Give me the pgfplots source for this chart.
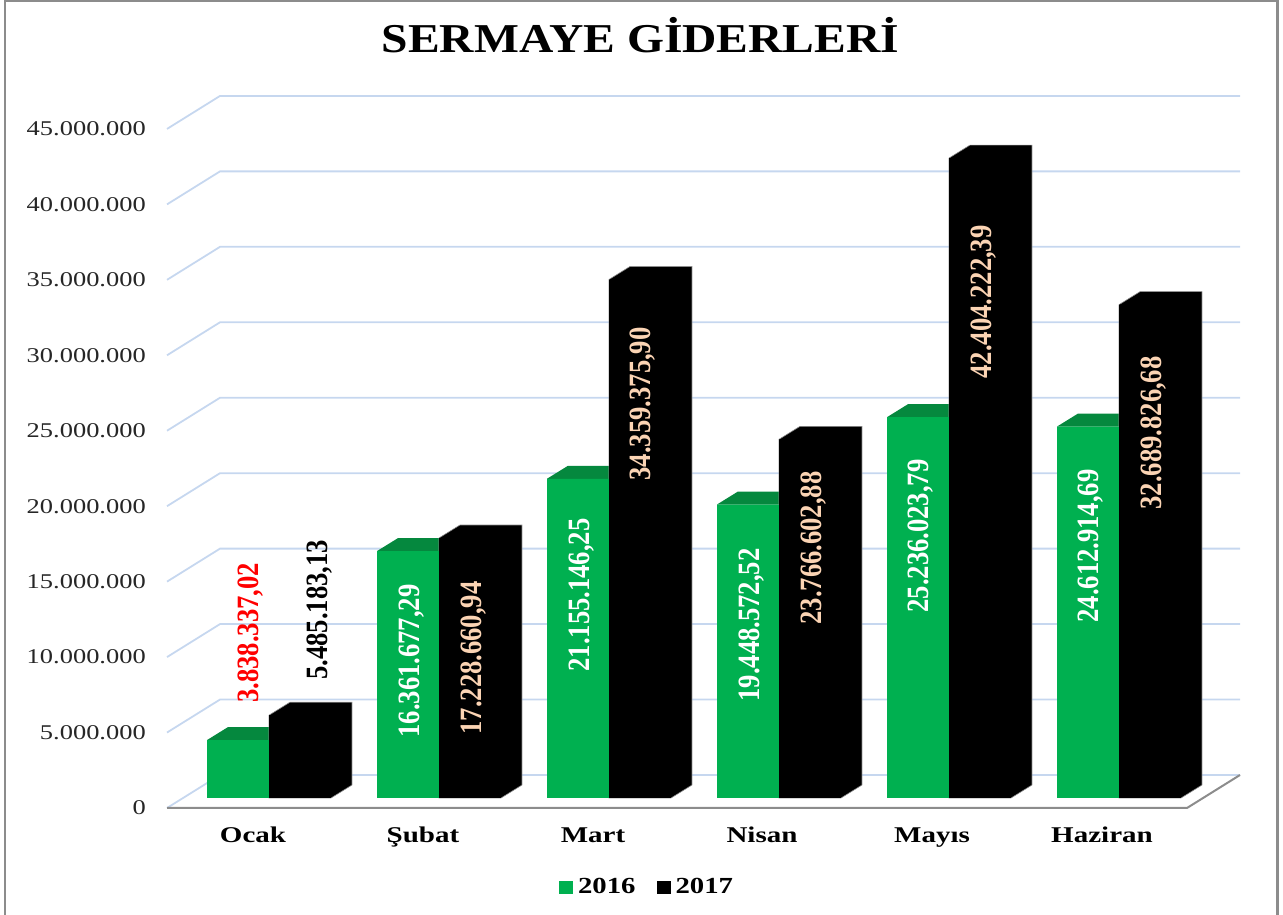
\documentclass[border=0pt]{standalone}
\usepackage{pgfplots}
\pgfplotsset{compat=1.18}
\usepackage{fontspec}
\setmainfont{Liberation Serif}
\newfontfamily\wide[FakeStretch=1.26]{Liberation Serif}
\newfontfamily\catf[FakeStretch=1.29]{Liberation Serif}
\newfontfamily\titlef[FakeStretch=1.16]{Liberation Serif}
\newfontfamily\legf[FakeStretch=1.25]{Liberation Serif}
\newfontfamily\narrow[FakeStretch=0.86]{Liberation Serif}
\definecolor{gridb}{HTML}{C6D7EF}
\definecolor{frameg}{HTML}{8C8C8C}
\definecolor{barg}{HTML}{00B050}
\definecolor{topg}{HTML}{05883E}
\definecolor{peach}{HTML}{FBD4B4}
\newcommand{\dl}[4]{\node[rotate=90,text=#3,inner sep=0pt,text depth=0pt] at (#1pt,915pt-#2pt) {\narrow\fontsize{31}{33}\selectfont\bfseries #4};}
\begin{document}
\begin{tikzpicture}[x=1pt,y=1pt]
\useasboundingbox (0,0) rectangle (1283pt,915pt);
% back layer : walls, floor, value axis, category axis
\begin{axis}[
  at={(0pt,0pt)},anchor=south west,
  scale only axis,width=1283pt,height=915pt,
  xmin=0,xmax=1283,ymin=-7090788,ymax=53545394,
  clip=false,
  axis line style={draw=none},
  major tick length=0pt,
  scaled y ticks=false,
  ytick={0,5000000,10000000,15000000,20000000,25000000,30000000,35000000,40000000,45000000},
  xtick={253,423,593,762,932,1102},
  xticklabels={Ocak,Şubat,Mart,Nisan,Mayıs,Haziran},
  yticklabel style={/pgf/number format/fixed,/pgf/number format/precision=0,/pgf/number format/1000 sep={.},/pgf/number format/assume math mode=true,
    font=\wide\fontsize{21}{23}\selectfont,text=black!85,anchor=east,inner sep=0pt,xshift=146pt},
  xticklabel style={font=\catf\fontsize{22.5}{25}\selectfont\bfseries,text=black,anchor=base,inner sep=0pt,yshift=72pt},
]
\addplot[gridb,line width=1.8pt] coordinates {(167,5000000)(220,7186879)(1240,7186879)};
\addplot[gridb,line width=1.8pt] coordinates {(167,10000000)(220,12186879)(1240,12186879)};
\addplot[gridb,line width=1.8pt] coordinates {(167,15000000)(220,17186879)(1240,17186879)};
\addplot[gridb,line width=1.8pt] coordinates {(167,20000000)(220,22186879)(1240,22186879)};
\addplot[gridb,line width=1.8pt] coordinates {(167,25000000)(220,27186879)(1240,27186879)};
\addplot[gridb,line width=1.8pt] coordinates {(167,30000000)(220,32186879)(1240,32186879)};
\addplot[gridb,line width=1.8pt] coordinates {(167,35000000)(220,37186879)(1240,37186879)};
\addplot[gridb,line width=1.8pt] coordinates {(167,40000000)(220,42186879)(1240,42186879)};
\addplot[gridb,line width=1.8pt] coordinates {(167,45000000)(220,47186879)(1240,47186879)};
\addplot[gridb,line width=1.8pt] coordinates {(167,0)(220,2186879)(1240,2186879)};
\addplot[frameg,line width=2pt] coordinates {(167,0)(1187,0)(1240,2186879)};
\end{axis}
% front layer : the bars, with their base on the floor
\begin{axis}[
  at={(0pt,0pt)},anchor=south west,
  scale only axis,width=1283pt,height=915pt,
  xmin=-1.58235,xmax=5.96471,ymin=-7753479,ymax=52882704,
  clip=false,hide axis,
  legend columns=2,
  legend style={at={(0.5043,0.0306)},anchor=center,draw=none,fill=none,
    font=\legf\fontsize{23}{25}\selectfont\bfseries,inner sep=0pt,
    /tikz/every odd column/.append style={column sep=3pt},
    /tikz/every even column/.append style={column sep=19pt}},
  legend image code/.code={\fill[#1] (0pt,-6.5pt) rectangle (14pt,6.5pt);},
]
% green bar tops
\addplot[fill=topg,draw=none,forget plot] coordinates {(-0.3647,3838337)(0,3838337)(0.1235,4699837)(-0.2412,4699837)} --cycle;
\addplot[fill=topg,draw=none,forget plot] coordinates {(0.6353,16361677)(1,16361677)(1.1235,17223177)(0.7588,17223177)} --cycle;
\addplot[fill=topg,draw=none,forget plot] coordinates {(1.6353,21155146)(2,21155146)(2.1235,22016646)(1.7588,22016646)} --cycle;
\addplot[fill=topg,draw=none,forget plot] coordinates {(2.6353,19448573)(3,19448573)(3.1235,20310073)(2.7588,20310073)} --cycle;
\addplot[fill=topg,draw=none,forget plot] coordinates {(3.6353,25236024)(4,25236024)(4.1235,26097524)(3.7588,26097524)} --cycle;
\addplot[fill=topg,draw=none,forget plot] coordinates {(4.6353,24612915)(5,24612915)(5.1235,25474415)(4.7588,25474415)} --cycle;
% black bar tops and sides
\addplot[fill=black,draw=black!45,line width=0.6pt,forget plot] coordinates {(0,5485183)(0.1235,6346683)(0.4882,6346683)(0.4882,861500)(0.3647,0)(0,0)} --cycle;
\addplot[fill=black,draw=black!45,line width=0.6pt,forget plot] coordinates {(1,17228661)(1.1235,18090161)(1.4882,18090161)(1.4882,861500)(1.3647,0)(1,0)} --cycle;
\addplot[fill=black,draw=black!45,line width=0.6pt,forget plot] coordinates {(2,34359376)(2.1235,35220876)(2.4882,35220876)(2.4882,861500)(2.3647,0)(2,0)} --cycle;
\addplot[fill=black,draw=black!45,line width=0.6pt,forget plot] coordinates {(3,23766603)(3.1235,24628103)(3.4882,24628103)(3.4882,861500)(3.3647,0)(3,0)} --cycle;
\addplot[fill=black,draw=black!45,line width=0.6pt,forget plot] coordinates {(4,42404222)(4.1235,43265722)(4.4882,43265722)(4.4882,861500)(4.3647,0)(4,0)} --cycle;
\addplot[fill=black,draw=black!45,line width=0.6pt,forget plot] coordinates {(5,32689827)(5.1235,33551327)(5.4882,33551327)(5.4882,861500)(5.3647,0)(5,0)} --cycle;
% bar fronts
\addplot[ybar,bar width=62pt,bar shift=-31pt,fill=barg,draw=none] coordinates {(0,3838337.02)(1,16361677.29)(2,21155146.25)(3,19448572.52)(4,25236023.79)(5,24612914.69)};
\addlegendentry{2016}
\addplot[ybar,bar width=62pt,bar shift=31pt,fill=black,draw=none] coordinates {(0,5485183.13)(1,17228660.94)(2,34359375.90)(3,23766602.88)(4,42404222.39)(5,32689826.68)};
\addlegendentry{2017}
\end{axis}
% frame, open at the bottom
\draw[frameg,line width=2.6pt] (5pt,-1pt) -- (5pt,914.5pt) -- (1277.5pt,914.5pt) -- (1277.5pt,-1pt);
% title
\node[anchor=base,inner sep=0pt] at (640.5pt,915pt-53pt) {\titlef\fontsize{41}{44}\selectfont\bfseries SERMAYE GİDERLERİ};
% data labels
\dl{248}{633}{red}{3.838.337,02}
\dl{317.5}{610}{black}{5.485.183,13}
\dl{409}{661}{white}{16.361.677,29}
\dl{471}{658}{peach}{17.228.660,94}
\dl{579}{595}{white}{21.155.146,25}
\dl{640.5}{404}{peach}{34.359.375,90}
\dl{749}{625}{white}{19.448.572,52}
\dl{811}{548}{peach}{23.766.602,88}
\dl{918}{536}{white}{25.236.023,79}
\dl{981}{302}{peach}{42.404.222,39}
\dl{1088}{546}{white}{24.612.914,69}
\dl{1151}{433}{peach}{32.689.826,68}
\end{tikzpicture}
\end{document}
